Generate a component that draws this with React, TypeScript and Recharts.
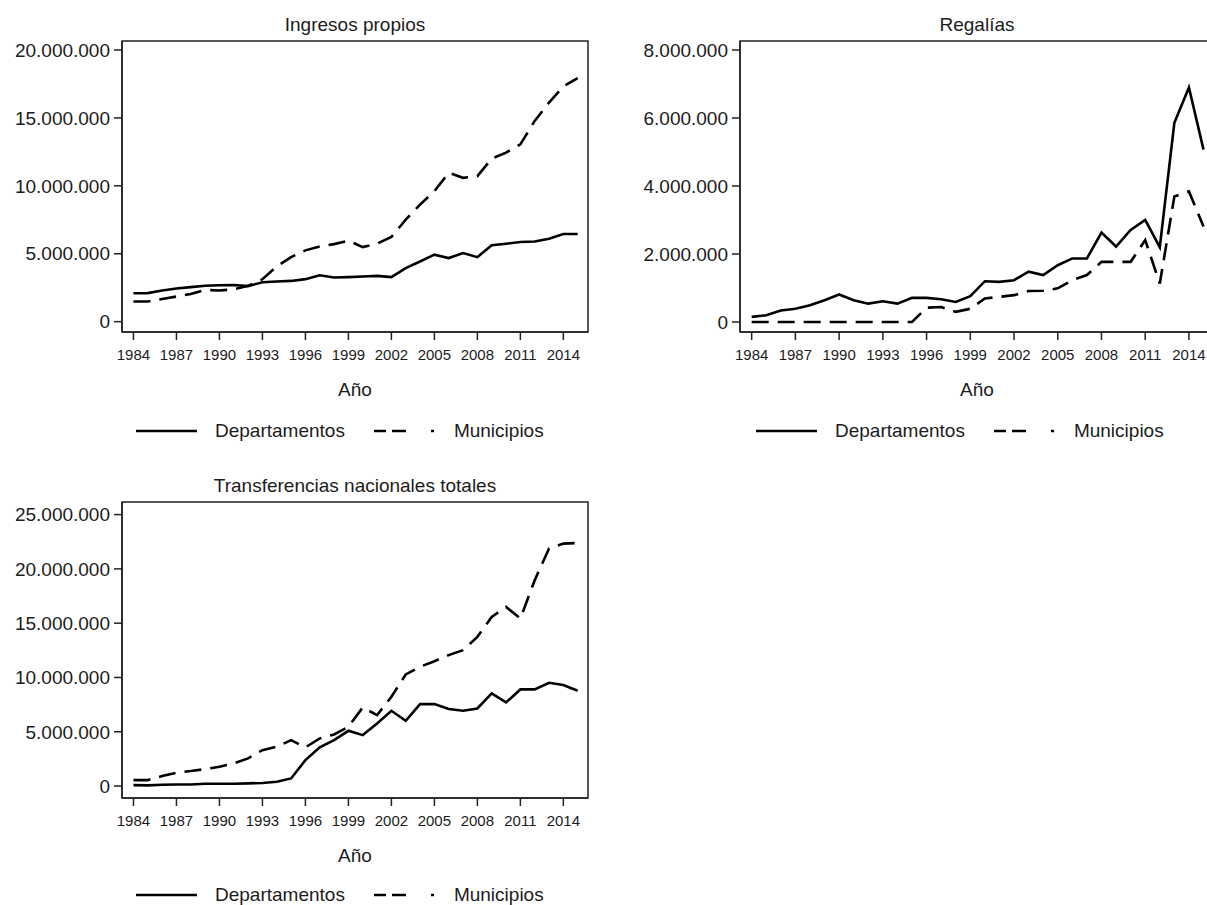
import React from "react";
import { LineChart, Line, XAxis, YAxis, Legend, ReferenceArea } from "recharts";

// Años 1984-2015; valores en millones
const years = [
  1984, 1985, 1986, 1987, 1988, 1989, 1990, 1991, 1992, 1993, 1994, 1995, 1996, 1997, 1998, 1999,
  2000, 2001, 2002, 2003, 2004, 2005, 2006, 2007, 2008, 2009, 2010, 2011, 2012, 2013, 2014, 2015,
];
const xTicks = [1984, 1987, 1990, 1993, 1996, 1999, 2002, 2005, 2008, 2011, 2014];

const ingresosDep = [
  2.09, 2.1, 2.3, 2.44, 2.54, 2.64, 2.68, 2.7, 2.62, 2.9, 2.96, 3.0, 3.13, 3.42, 3.25, 3.28,
  3.32, 3.37, 3.28, 3.94, 4.43, 4.93, 4.68, 5.05, 4.75, 5.62, 5.74, 5.86, 5.9, 6.1, 6.45, 6.45,
];
const ingresosMun = [
  1.48, 1.48, 1.67, 1.85, 2.04, 2.34, 2.29, 2.39, 2.64, 3.13, 4.06, 4.75, 5.25, 5.54, 5.71, 5.96,
  5.49, 5.74, 6.23, 7.51, 8.62, 9.6, 10.96, 10.59, 10.71, 12.0, 12.44, 13.05, 14.78, 16.13, 17.32, 17.93,
];
const regaliasDep = [
  0.15, 0.2, 0.34, 0.39, 0.49, 0.64, 0.81, 0.64, 0.54, 0.61, 0.54, 0.71, 0.71, 0.67, 0.59, 0.76,
  1.2, 1.18, 1.23, 1.48, 1.38, 1.67, 1.87, 1.87, 2.63, 2.22, 2.71, 3.0, 2.2, 5.86, 6.9, 5.07,
];
const regaliasMun = [
  0, 0, 0, 0, 0, 0, 0, 0, 0, 0, 0, 0, 0.42, 0.44, 0.3, 0.39,
  0.69, 0.74, 0.79, 0.91, 0.92, 0.99, 1.23, 1.38, 1.77, 1.77, 1.77, 2.41, 1.13, 3.69, 3.84, 2.81,
];
const transfDep = [
  0.09, 0.06, 0.12, 0.15, 0.15, 0.21, 0.21, 0.21, 0.25, 0.28, 0.4, 0.7, 2.39, 3.56, 4.23, 5.09,
  4.69, 5.77, 6.93, 6.01, 7.55, 7.55, 7.09, 6.93, 7.15, 8.53, 7.7, 8.9, 8.9, 9.51, 9.3, 8.77,
];
const transfMun = [
  0.55, 0.55, 0.92, 1.23, 1.38, 1.56, 1.78, 2.09, 2.55, 3.31, 3.62, 4.23, 3.56, 4.39, 4.75, 5.46,
  7.24, 6.53, 8.22, 10.28, 10.98, 11.5, 12.06, 12.52, 13.74, 15.58, 16.5, 15.43, 18.96, 21.87, 22.33, 22.39,
];

const ingresosTicks = [0, 5e6, 10e6, 15e6, 20e6];
const regaliasTicks = [0, 2e6, 4e6, 6e6, 8e6];
const transfTicks = [0, 5e6, 10e6, 15e6, 20e6, 25e6];

const FONT = '"Liberation Sans", Arial, Helvetica, sans-serif';
const INK = "#1c1c1c";
const X_DOMAIN: [number, number] = [1983.2, 2015.72];
const LINE_W = 2.6;

const fmt = (v: number) => String(Math.round(v)).replace(/\B(?=(\d{3})+(?!\d))/g, ".");

function buildRows(dep: number[], mun: number[]) {
  return years.map((year, i) => ({ year, dep: dep[i] * 1e6, mun: mun[i] * 1e6 }));
}

function LegendRow() {
  return (
    <div
      style={{
        display: "flex",
        alignItems: "center",
        height: 22,
        fontFamily: FONT,
        fontSize: 19,
        color: INK,
        whiteSpace: "nowrap",
      }}
    >
      <svg width={61} height={6}>
        <line x1={0} x2={61} y1={3} y2={3} stroke="#000" strokeWidth={LINE_W} />
      </svg>
      <span style={{ marginLeft: 18 }}>Departamentos</span>
      <svg width={62} height={6} style={{ marginLeft: 29 }}>
        <line x1={0} x2={62} y1={3} y2={3} stroke="#000" strokeWidth={LINE_W} strokeDasharray="12 6 14 25 3 20" />
      </svg>
      <span style={{ marginLeft: 18 }}>Municipios</span>
    </div>
  );
}

interface PanelProps {
  title: string;
  data: { year: number; dep: number; mun: number }[];
  yDomain: [number, number];
  yTicks: number[];
  left: number;
  top: number;
  width: number;
  height: number;
  marginTop: number;
  marginBottom: number;
  yAxisWidth: number;
  legendLeft: number;
  legendTop: number;
}

function Panel(p: PanelProps) {
  const axisLine = { stroke: "#222", strokeWidth: 1.5 };
  return (
    <div style={{ position: "absolute", left: p.left, top: p.top }}>
      <LineChart
        width={p.width}
        height={p.height}
        data={p.data}
        margin={{ top: p.marginTop, right: 12, left: 0, bottom: p.marginBottom }}
      >
        <XAxis
          dataKey="year"
          type="number"
          domain={X_DOMAIN}
          ticks={xTicks}
          height={30}
          tickSize={8}
          tickMargin={9}
          tick={{ fontSize: 15, fill: INK, fontFamily: FONT }}
          axisLine={axisLine}
          tickLine={axisLine}
          label={{ value: "Año", position: "bottom", offset: 21, fontSize: 19, fill: INK, fontFamily: FONT }}
        />
        <YAxis
          type="number"
          domain={p.yDomain}
          ticks={p.yTicks}
          tickFormatter={fmt}
          width={p.yAxisWidth}
          tickSize={8}
          tickMargin={4}
          tick={{ fontSize: 19, fill: INK, fontFamily: FONT }}
          axisLine={axisLine}
          tickLine={axisLine}
        />
        {/* marco del gráfico y título */}
        <ReferenceArea
          x1={X_DOMAIN[0]}
          x2={X_DOMAIN[1]}
          y1={p.yDomain[0]}
          y2={p.yDomain[1]}
          fill="none"
          fillOpacity={0}
          stroke="#222"
          strokeWidth={1.5}
          label={{ value: p.title, position: "top", offset: 10, fontSize: 19, fill: INK, fontFamily: FONT }}
        />
        <Legend
          layout="horizontal"
          verticalAlign="middle"
          align="center"
          wrapperStyle={{ left: p.legendLeft, top: p.legendTop, width: "auto" }}
          content={() => <LegendRow />}
        />
        <Line
          dataKey="dep"
          name="Departamentos"
          stroke="#000"
          strokeWidth={LINE_W}
          dot={false}
          isAnimationActive={false}
        />
        <Line
          dataKey="mun"
          name="Municipios"
          stroke="#000"
          strokeWidth={LINE_W}
          strokeDasharray="17 9"
          dot={false}
          isAnimationActive={false}
        />
      </LineChart>
    </div>
  );
}

export default function App() {
  return (
    <div
      style={{
        position: "absolute",
        left: 0,
        top: 0,
        width: 1207,
        height: 905,
        overflow: "hidden",
        background: "#fff",
      }}
    >
      <Panel
        title="Ingresos propios"
        data={buildRows(ingresosDep, ingresosMun)}
        yDomain={[-0.76e6, 20.66e6]}
        yTicks={ingresosTicks}
        left={0}
        top={0}
        width={600}
        height={460}
        marginTop={41}
        marginBottom={98}
        yAxisWidth={122}
        legendLeft={136}
        legendTop={420}
      />
      <Panel
        title="Regalías"
        data={buildRows(regaliasDep, regaliasMun)}
        yDomain={[-0.294e6, 8.265e6]}
        yTicks={regaliasTicks}
        left={600}
        top={0}
        width={626}
        height={460}
        marginTop={41}
        marginBottom={98}
        yAxisWidth={140}
        legendLeft={156}
        legendTop={420}
      />
      <Panel
        title="Transferencias nacionales totales"
        data={buildRows(transfDep, transfMun)}
        yDomain={[-1.1e6, 26.16e6]}
        yTicks={transfTicks}
        left={0}
        top={460}
        width={600}
        height={445}
        marginTop={42}
        marginBottom={77}
        yAxisWidth={122}
        legendLeft={136}
        legendTop={424}
      />
    </div>
  );
}
